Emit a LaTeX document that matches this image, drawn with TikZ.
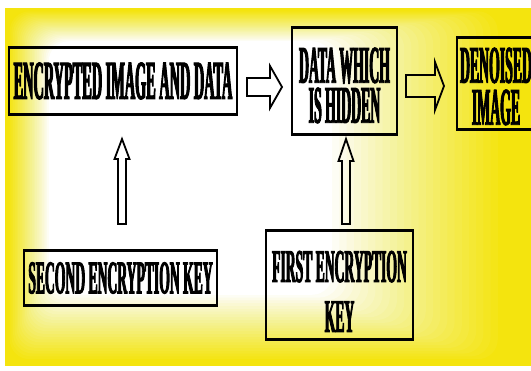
\documentclass[tikz,border=0pt]{standalone}
\usepackage{fontspec}
\usetikzlibrary{calc}
\newfontfamily\condA[FakeStretch=0.26, FakeBold=1.8]{Liberation Serif Bold}
\newfontfamily\condB[FakeStretch=0.29, FakeBold=1.8]{Liberation Serif Bold}
\definecolor{bgyellow}{RGB}{244,228,14}

% hollow block arrow from #1 to #2: shaft half width #3, head half width #4, head length #5
\newcommand\blockarrow[5]{%
  \draw[blockline] let \p1=(#1), \p2=(#2),
      \n1={atan2(\y2-\y1,\x2-\x1)}, \n2={veclen(\x2-\x1,\y2-\y1)} in
    [shift={(\p1)}, rotate=\n1]
    (0pt,-#3) -- ({\n2-#5},-#3) -- ({\n2-#5},-#4) -- (\n2,0pt)
    -- ({\n2-#5},#4) -- ({\n2-#5},#3) -- (0pt,#3) -- cycle;}

\begin{document}
\begin{tikzpicture}[x=1pt,y=-1pt,
  box/.style={draw, line width=2pt, inner sep=1pt, align=center,
    path picture={\draw[line width=4pt]
      (path picture bounding box.north west) -- (path picture bounding box.north east)
      (path picture bounding box.south west) -- (path picture bounding box.south east);}},
  blockline/.style={draw=black, line width=1.8pt, line join=miter},
  bigtext/.style={font=\condA\fontsize{53}{40}\selectfont},
  keytext/.style={font=\condB\fontsize{47}{50}\selectfont}]
\useasboundingbox (0,0) rectangle (531,371);

% yellow card with a soft white glow inside
\fill[bgyellow] (5,8) rectangle (531,366);
\foreach \k in {1,...,24}{
  \pgfmathsetmacro\op{1/(25-\k)}
  \fill[white, fill opacity=\op, rounded corners=20pt]
    ({8+1.7*\k},{10+1.3*\k}) rectangle ({505-7.2*\k},{362-2.8*\k});
}

% boxes
\node[box, font=\condA\fontsize{55}{40}\selectfont,
      minimum width=228pt, minimum height=68pt] (enc) at (123,81)
  {ENCRYPTED IMAGE AND DATA};
\node[box, bigtext, text height=84pt, minimum width=105pt, minimum height=108pt]
  (dwh) at (344.5,81) {DATA WHICH\\IS HIDDEN};
\node[box, font=\condA\fontsize{53}{42}\selectfont, text height=83pt,
      minimum width=78pt, minimum height=93pt]
  (den) at (496,83.5) {DENOISED\\IMAGE};
\node[box, keytext, minimum width=193pt, minimum height=56pt] (sek) at (120.5,278)
  {SECOND ENCRYPTION KEY};
\node[box, keytext, text height=94pt, minimum width=147pt, minimum height=110pt]
  (fek) at (339.5,285) {FIRST ENCRYPTION\\KEY};

% hollow arrows
\blockarrow{$(enc.east)+(9,6)$}{$(dwh.west)+(-9,6)$}{9pt}{21pt}{12pt}
\blockarrow{$(dwh.east)+(8,5)$}{$(den.west)+(-12,2.5)$}{11pt}{24pt}{9pt}
\blockarrow{$(sek.north)+(1.5,-25)$}{$(enc.south)+(-1,23)$}{4pt}{7.5pt}{20pt}
\blockarrow{$(fek.north)+(6.5,-5)$}{$(dwh.south)+(1.5,3)$}{4pt}{7.5pt}{22pt}
\end{tikzpicture}
\end{document}
